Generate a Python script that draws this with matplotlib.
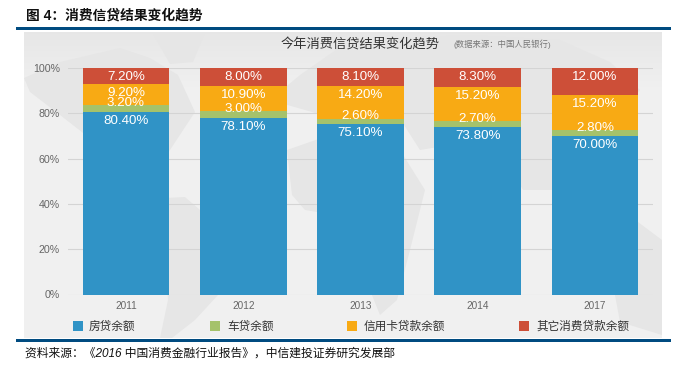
#!/usr/bin/env python3
"""Stacked consumer credit shares, 2011-2017, on a pale world-map panel."""
import numpy as np
import matplotlib.pyplot as plt
from matplotlib.patches import Polygon, Rectangle

plt.rcParams['font.family'] = ['Liberation Sans', 'Noto Sans CJK SC', 'DejaVu Sans']

W, H = 679, 372

YEARS = ['2011', '2012', '2013', '2014', '2017']
SERIES = ['房贷余额', '车贷余额', '信用卡贷款余额', '其它消费贷款余额']
HOUSE = [80.4, 78.1, 75.1, 73.8, 70.0]
CAR = [3.2, 3.0, 2.6, 2.7, 2.8]
CARD = [9.2, 10.9, 14.2, 15.2, 15.2]
OTHER = [7.2, 8.0, 8.1, 8.3, 12.0]
COLORS = ['#3093c6', '#a5c26b', '#f8aa14', '#cd4f38']
TEXT_GREY = '#666666'
LAND = '#e6e6e6'

fig = plt.figure(figsize=(W / 100, H / 100), dpi=100, facecolor='white')

# full-figure pixel canvas for the page furniture
bg = fig.add_axes([0, 0, 1, 1])

# panel background, a bit darker towards the top
shade = np.clip((np.arange(32, 338) - 32) / 60.0, 0, 1)[:, None]
grad = 0.905 + (0.945 - 0.905) * shade
bg.imshow(np.repeat(grad[:, :, None], 3, axis=2), extent=(24, 662, 338, 32),
          aspect='auto', zorder=0)
bg.set_xlim(0, W)
bg.set_ylim(H, 0)
bg.axis('off')

# rough map silhouettes behind the chart
land = [
    [(24, 78), (60, 62), (120, 48), (150, 58), (178, 75), (195, 112), (170, 150), (140, 185), (105, 150), (60, 115), (30, 92)],
    [(153, 34), (205, 33), (193, 62), (170, 64)],
    [(165, 198), (185, 197), (200, 210), (225, 240), (218, 295), (195, 320), (172, 338), (160, 338), (168, 300), (165, 260)],
    [(270, 100), (300, 75), (350, 40), (470, 35), (560, 40), (610, 62), (640, 90), (590, 150), (552, 190), (523, 190), (500, 150), (450, 145), (420, 150), (404, 125), (340, 120)],
    [(287, 150), (330, 135), (400, 150), (425, 190), (410, 250), (397, 300), (380, 315), (372, 295), (340, 240), (317, 212), (305, 210), (292, 195)],
    [(638, 222), (662, 240), (662, 335), (620, 322), (615, 295), (638, 290)],
]
for pts in land:
    bg.add_patch(Polygon(pts, closed=True, color=LAND, lw=0, zorder=1))
for y0 in (27, 339):
    bg.add_patch(Rectangle((16, y0), 655, 3, color='#004b80', lw=0, zorder=2))

bg.text(26, 15.5, '图 4：消费信贷结果变化趋势', fontsize=9.9, fontweight='bold',
        color='#111111', ha='left', va='center')
bg.text(281, 44.5, '今年消费信贷结果变化趋势', fontsize=9.5, color='#333333', ha='left', va='center')
bg.text(454, 44.5, '(数据来源：中国人民银行)', fontsize=6, color='#777777', ha='left', va='center')
bg.text(25, 354, '资料来源：《2016 中国消费金融行业报告》，中信建投证券研究发展部', fontsize=8.5,
        style='italic', color='#111111', ha='left', va='center')

# chart axes: 0..100% spans y=294.5..68, x spans 68..653 in pixels
ax = fig.add_axes([68 / W, 1 - 294.5 / H, 585 / W, 226.5 / H])
ax.patch.set_alpha(0)
ax.set_xlim(-0.4947, 4.495)
ax.set_ylim(0, 100)
for s in ax.spines.values():
    s.set_visible(False)
ax.set_axisbelow(True)
ax.yaxis.grid(True, color='#d4d4d4', lw=0.8)
ax.tick_params(length=0, labelcolor=TEXT_GREY)
ax.tick_params(axis='y', labelsize=7.7, pad=5.8)
ax.tick_params(axis='x', labelsize=7.2, pad=4.7)
ax.set_yticks(range(0, 101, 20), [f'{v}%' for v in range(0, 101, 20)])
x = list(range(len(YEARS)))
ax.set_xticks(x, YEARS)

bottom = [0.0] * len(YEARS)
for i, vals in enumerate([HOUSE, CAR, CARD, OTHER]):
    ax.bar(x, vals, width=0.738, bottom=bottom, color=COLORS[i], label=SERIES[i], lw=0)
    for k, v in enumerate(vals):
        top = bottom[k] + v
        # labels hang 4 points under the segment top, the thin car ones poke above it
        yc = top + 0.9 if i == 1 else top - 4.0
        ax.text(k, yc, f'{v:.2f}%', color='white', fontsize=9.6, ha='center', va='center')
    bottom = [b + v for b, v in zip(bottom, vals)]

handles, labels = ax.get_legend_handles_labels()
for h, lab, xs, xt in zip(handles, labels, (73, 210, 347, 519), (89, 227, 364, 536)):
    bg.add_patch(Rectangle((xs, 321), 9.5, 10, color=h.patches[0].get_facecolor(), lw=0, zorder=2))
    bg.text(xt, 326.5, lab, fontsize=8.4, color='#333333', ha='left', va='center')

fig.savefig('out.png', dpi=100, facecolor='white')
